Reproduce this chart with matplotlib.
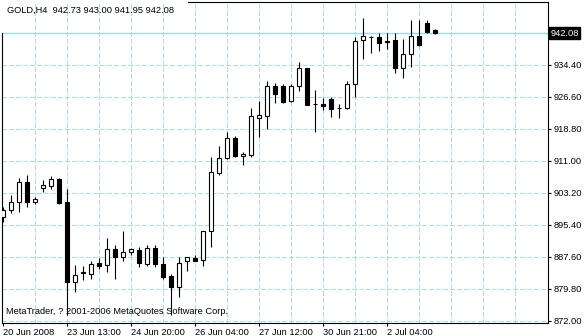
import numpy as np
import matplotlib as mpl
mpl.use("Agg")
import matplotlib.pyplot as plt
import matplotlib.transforms as mtransforms

# GOLD, H4 candles (oldest first)
opens = [897.20, 898.93, 900.86, 905.75, 900.93, 904.22, 904.71, 906.53, 900.86, 881.36,
         883.70, 883.50, 886.01, 885.50, 889.40, 887.45, 888.69, 889.18, 885.82, 889.64,
         885.74, 882.89, 880.14, 886.48, 887.40, 886.79, 893.74, 908.07, 911.53, 916.45,
         912.07, 912.46, 921.52, 921.77, 929.13, 929.13, 925.47, 929.13, 933.51, 924.76,
         924.81, 926.03, 923.79, 923.72, 929.61, 940.34, 941.19, 941.07, 940.22, 940.41,
         933.66, 936.93, 941.39, 944.48, 942.73]
highs = [899.71, 902.63, 906.78, 907.51, 902.15, 906.29, 907.27, 906.78, 904.10, 885.57,
         885.21, 886.55, 887.16, 892.15, 890.40, 893.86, 889.77, 890.03, 890.38, 890.33,
         887.52, 883.45, 887.45, 887.52, 888.01, 893.86, 911.90, 914.58, 917.99, 917.01,
         913.11, 923.77, 925.59, 930.42, 929.93, 929.69, 929.69, 935.10, 933.59, 928.23,
         926.20, 926.45, 924.76, 930.42, 941.07, 945.77, 941.39, 942.04, 942.04, 942.04,
         940.65, 945.29, 945.29, 945.29, 943.00]
lows = [896.13, 898.13, 898.37, 899.78, 900.32, 903.37, 904.17, 900.51, 873.39, 879.07,
        881.80, 882.28, 884.55, 883.87, 882.28, 886.62, 888.06, 885.09, 885.40, 885.09,
        882.28, 873.39, 877.70, 884.19, 886.48, 885.21, 889.84, 907.58, 911.48, 911.90,
        910.02, 911.97, 916.84, 918.72, 924.98, 925.13, 925.42, 927.86, 924.64, 918.06,
        923.35, 921.72, 921.52, 923.67, 926.59, 935.85, 937.12, 937.80, 938.10, 932.30,
        931.22, 933.90, 939.02, 942.04, 941.95]
closes = [898.98, 900.88, 905.75, 900.81, 901.66, 905.00, 906.53, 900.76, 881.36, 883.06,
          883.79, 885.94, 885.40, 889.55, 887.45, 888.69, 889.40, 886.11, 889.64, 885.74,
          882.72, 880.14, 885.99, 887.45, 886.62, 893.79, 908.17, 911.58, 916.45, 912.02,
          912.58, 921.82, 922.06, 929.13, 927.18, 925.37, 929.13, 933.51, 924.69, 924.72,
          924.40, 923.64, 923.74, 929.61, 940.09, 941.31, 941.24, 939.75, 939.80, 933.66,
          937.00, 941.39, 939.07, 942.43, 942.08]

date_labels = ['20 Jun 2008', '23 Jun 13:00', '24 Jun 20:00', '26 Jun 04:00',
               '27 Jun 12:00', '30 Jun 21:00', '2 Jul 04:00']
date_bars = [0, 8, 16, 24, 32, 40, 48]
price_ticks = [872.00, 879.80, 887.60, 895.40, 903.20, 911.00, 918.80, 926.60, 934.40]
grid_prices = price_ticks
bid = 942.08

font = 'Liberation Sans'
fs = 6.7
grid_col = '#a4e2e2'

fig = plt.figure(figsize=(5.84, 3.36), dpi=100)
ax = fig.add_axes([2/584, 13/336, 546/584, 321/336])
ax.set_xlim(-0.125, 68.125)
ax.set_ylim(871.44, 949.67)

o = np.array(opens)
c = np.array(closes)
x = np.arange(len(o))

# grid
ax.vlines(np.arange(4, 68, 4), 871.44, 949.67, colors=grid_col, lw=0.75,
          linestyles=(0, (4, 2)), zorder=1, antialiased=False)
ax.hlines(grid_prices, -0.125, 68.125, colors=grid_col, lw=0.75,
          linestyles=(0, (4, 2)), zorder=1, antialiased=False)
ax.axhline(bid, color='#92e0e0', lw=1.0, zorder=1.5)

# candles
ax.vlines(x, lows, highs, colors='black', lw=0.8, zorder=3)
up = c >= o
ax.bar(x, np.maximum(np.abs(c - o), 0.03), bottom=np.minimum(o, c), width=0.6,
       color=np.where(up, 'white', 'black'), edgecolor='black', linewidth=0.8, zorder=4)

# frame
for s in ['left', 'top']:
    ax.spines[s].set_visible(False)
for s in ['right', 'bottom']:
    ax.spines[s].set_color('black')
    ax.spines[s].set_linewidth(0.8)
ax.plot([0, 0], [0, 0.903], transform=ax.transAxes, color='black', lw=0.8, clip_on=False)
ax.plot([0.34, 1], [1, 1], transform=ax.transAxes, color='black', lw=0.8, clip_on=False)

ax.yaxis.tick_right()
ax.set_yticks(price_ticks)
ax.set_yticklabels(['%.2f' % p for p in price_ticks], fontsize=fs, family=font)
ax.tick_params(axis='y', length=2.5, width=0.8, pad=1.2, direction='out')

ax.set_xticks(date_bars)
ax.set_xticklabels(date_labels, fontsize=fs, family=font, ha='left')
ax.tick_params(axis='x', length=2.5, width=0.8, pad=1.2, direction='out')

# bid price label
trans = mtransforms.blended_transform_factory(ax.transAxes, ax.transData)
ax.text(1.004, bid, '%.2f' % bid, transform=trans, color='white', fontsize=fs,
        family=font, va='center', ha='left',
        bbox=dict(facecolor='black', edgecolor='black', pad=1.2))

ax.text(0.009, 0.988, 'GOLD,H4  %.2f %.2f %.2f %.2f' % (opens[-1], highs[-1], lows[-1], closes[-1]),
        transform=ax.transAxes, fontsize=fs, family=font, va='top', ha='left', zorder=5)
ax.text(0.0075, 0.028, 'MetaTrader, ? 2001-2006 MetaQuotes Software Corp.',
        transform=ax.transAxes, fontsize=fs, family=font, va='baseline', ha='left', zorder=2)

fig.savefig('out.png', dpi=100)
